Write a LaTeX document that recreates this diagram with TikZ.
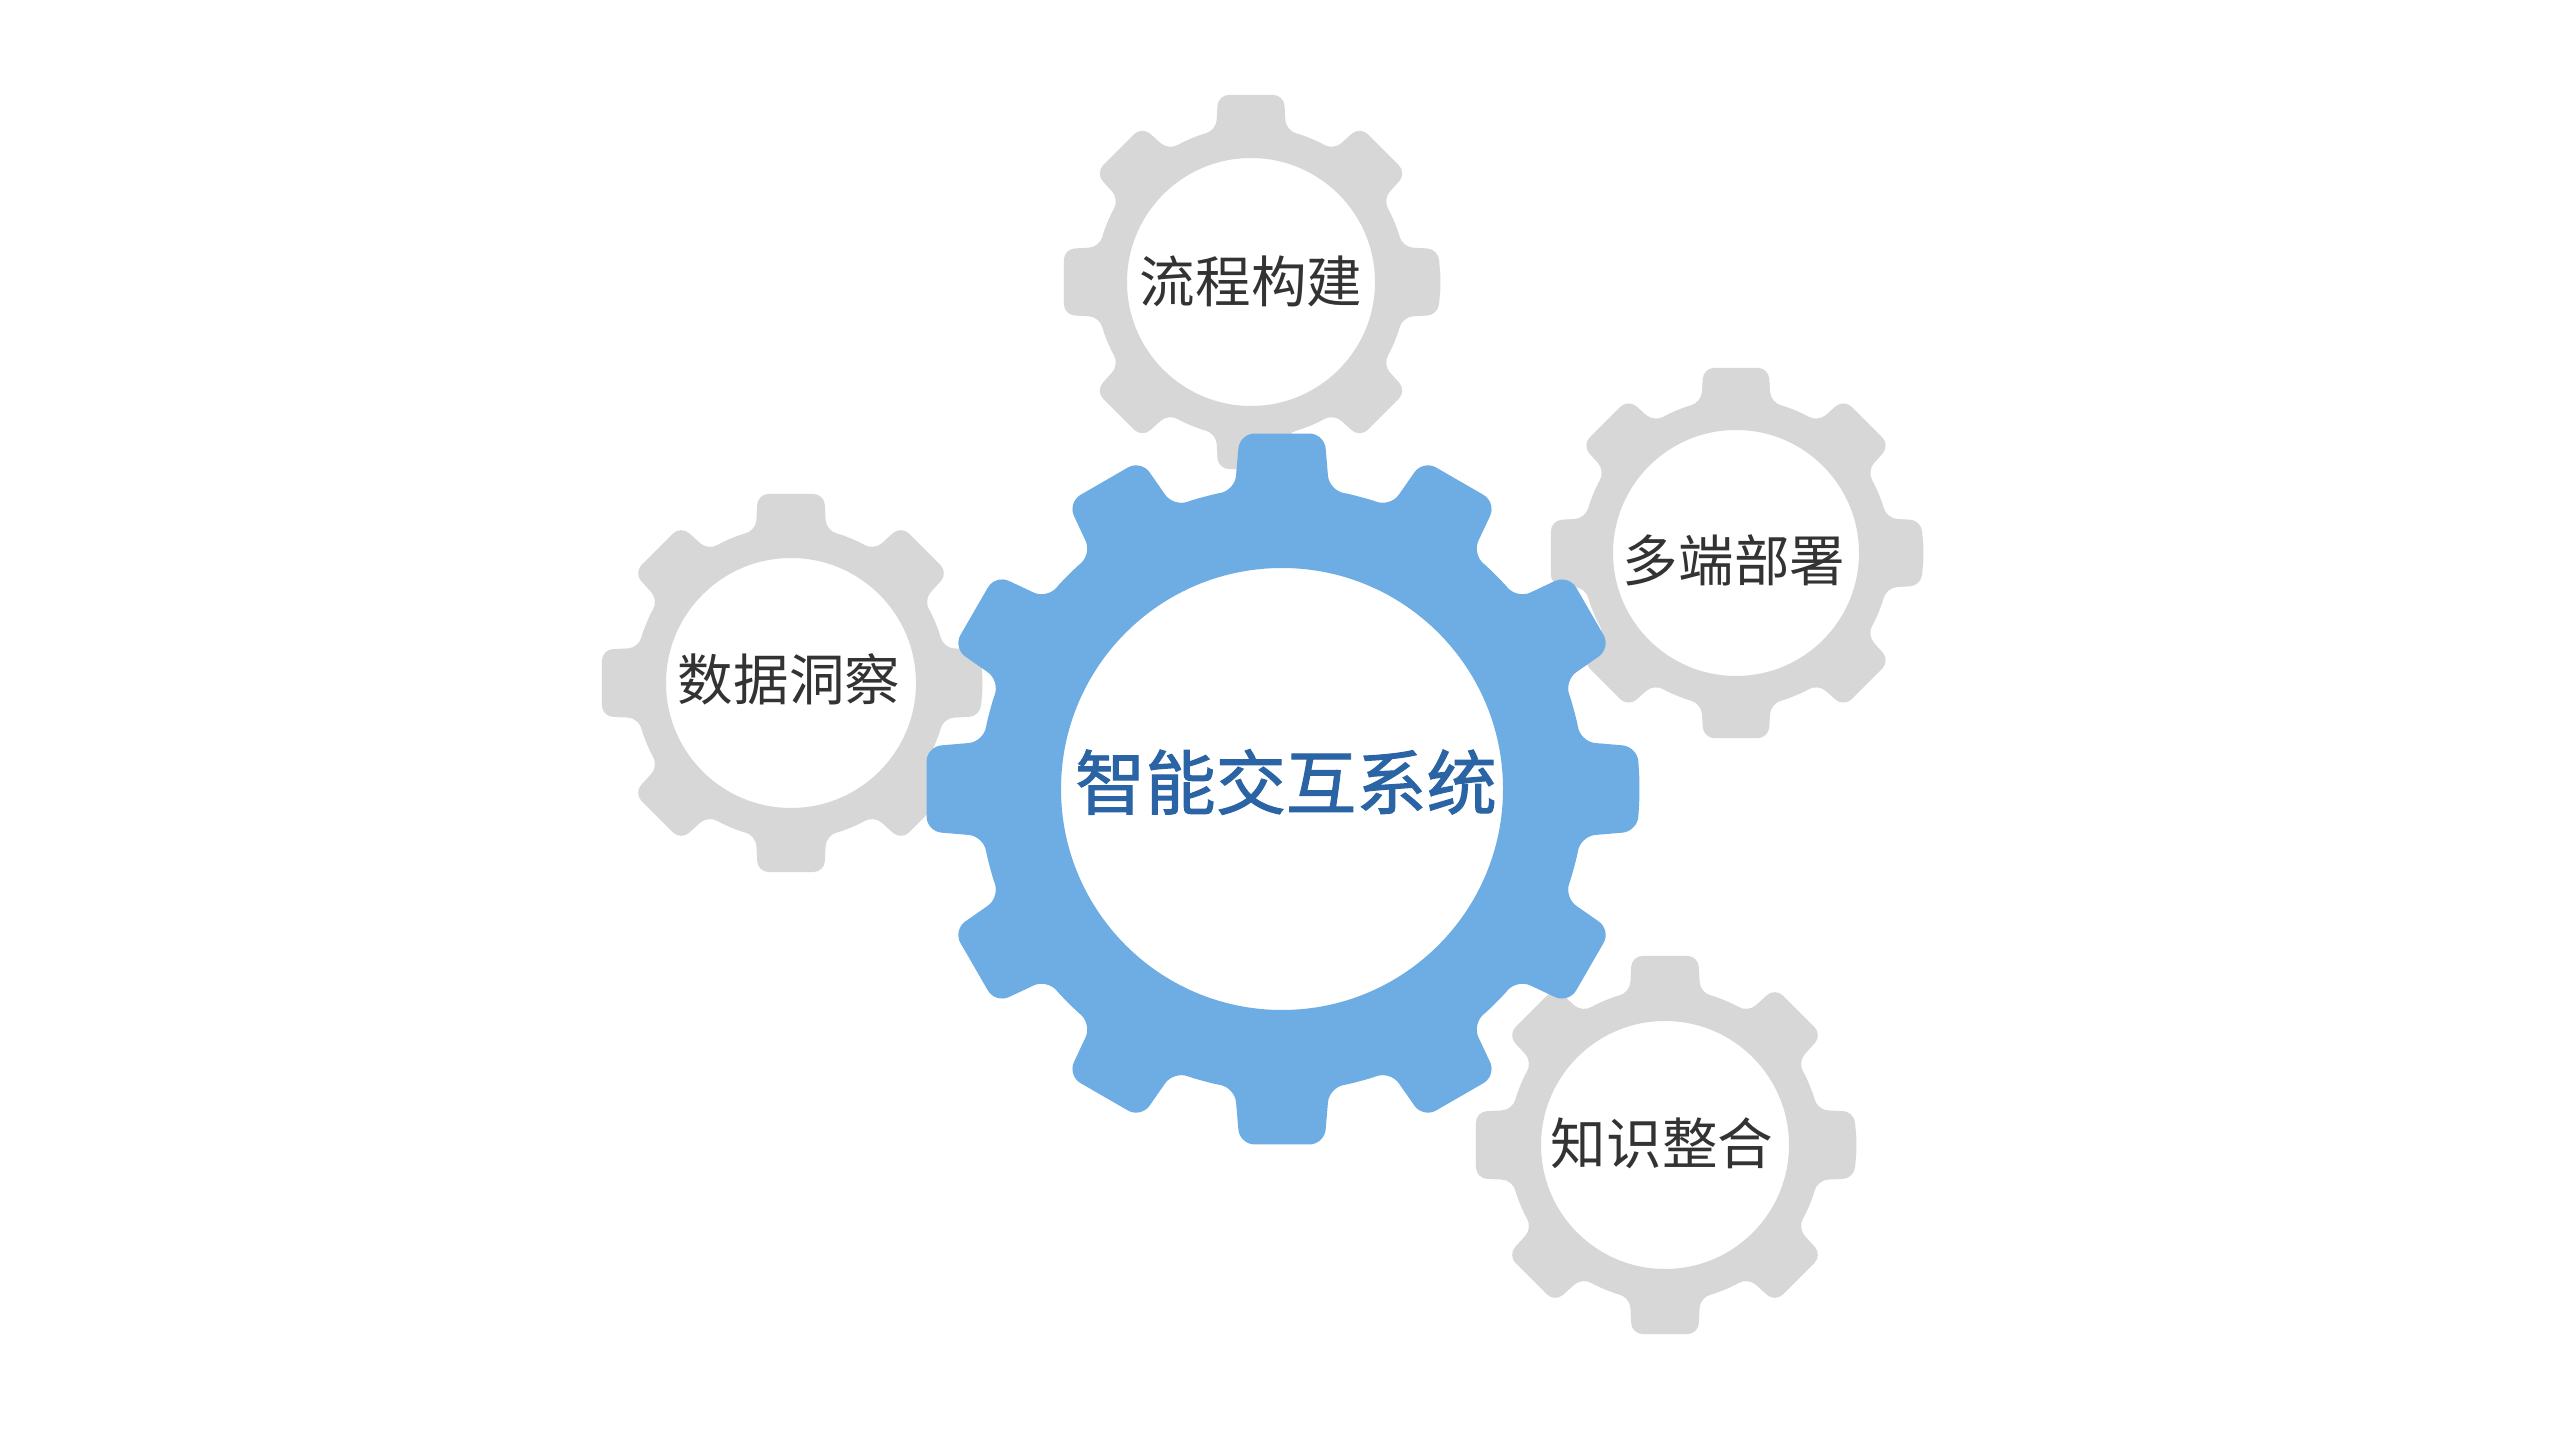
\documentclass[tikz,border=0pt]{standalone}
\usepackage{fontspec}
\newfontfamily\cjk{Noto Sans CJK SC}
\newfontfamily\cjkmid{Noto Sans CJK SC}[FakeBold=1.4]
\definecolor{gearblue}{HTML}{6EADE3}
\definecolor{geargrey}{HTML}{D7D7D7}
\definecolor{coretext}{HTML}{2A64A4}
\definecolor{labeltext}{HTML}{333333}

% #1 style, #2 centre, #3 teeth, #4 tip radius, #5 root radius,
% #6 hole radius, #7 half tip angle, #8 half base angle
\newcommand{\drawgear}[8]{%
  \begin{scope}[shift={#2}]
    \pgfmathsetmacro{\gstep}{360/#3}
    \fill[#1, even odd rule] (0:#4)
      \foreach \k in {1,...,#3} {
        -- ({(\k-1)*\gstep+#7}:#4) -- ({(\k-1)*\gstep+#8}:#5)
        arc[start angle={(\k-1)*\gstep+#8}, end angle={\k*\gstep-#8}, radius=#5]
        -- ({\k*\gstep-#7}:#4)
      } -- cycle
      (0,0) circle (#6);
  \end{scope}}

\tikzset{
  small gear/.style={fill=geargrey, rounded corners=1.1mm},
  core gear/.style={fill=gearblue, rounded corners=1.5mm},
  gear label/.style={font=\cjk\fontsize{15.8}{18}\selectfont, text=labeltext},
  core label/.style={font=\cjkmid\fontsize{20}{24}\selectfont, text=coretext}
}

\begin{document}
\begin{tikzpicture}
  \fill[white] (0,0) rectangle (25.6,14.4);
  \useasboundingbox (0,0) rectangle (25.6,14.4);
  % gear centres
  \coordinate (corec) at (12.82,6.51);
  \coordinate (flowc) at (12.51,11.58);
  \coordinate (datac) at (7.91,7.57);
  \coordinate (deployc) at (17.36,8.87);
  \coordinate (knowc) at (16.65,2.95);
  % small gears
  \drawgear{small gear}{(flowc)}{8}{1.90}{1.55}{1.24}{10}{13}
  \drawgear{small gear}{(datac)}{8}{1.92}{1.56}{1.25}{10}{13}
  \drawgear{small gear}{(deployc)}{8}{1.88}{1.54}{1.23}{10}{13}
  \drawgear{small gear}{(knowc)}{8}{1.92}{1.56}{1.24}{10}{13}
  % central gear
  \drawgear{core gear}{(corec)}{12}{3.58}{3.02}{2.21}{6.8}{9}
  % labels
  \node[core label] (core) at (12.86,6.58) {智能交互系统};
  \node[gear label] (flow) at (12.51,11.59) {流程构建};
  \node[gear label] (data) at (7.89,7.61) {数据洞察};
  \node[gear label] (deploy) at (17.34,8.80) {多端部署};
  \node[gear label] (know) at (16.62,2.97) {知识整合};
\end{tikzpicture}
\end{document}
